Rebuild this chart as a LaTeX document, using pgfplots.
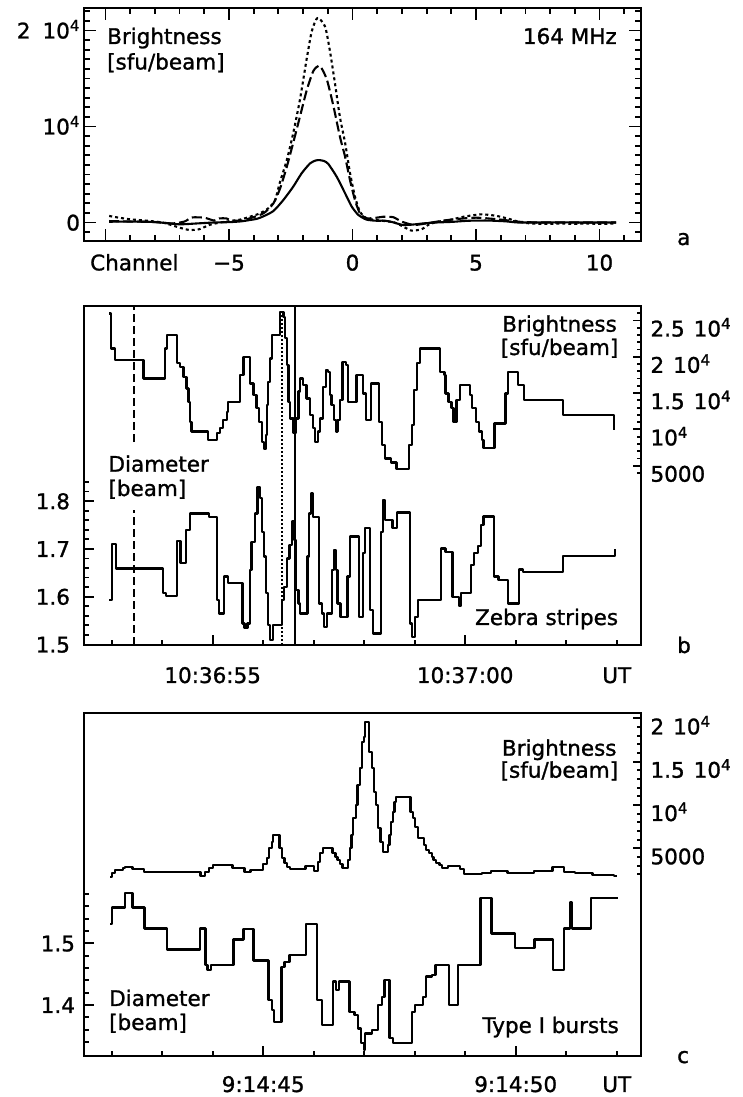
\documentclass[border=0pt]{standalone}
\usepackage{pgfplots}
\pgfplotsset{compat=1.18}
\usepackage{fontspec}
\setmainfont{DejaVu Sans}[BoldFont=DejaVu Sans, BoldFeatures={FakeBold=1.2}]

\newcommand{\tf}{\fontsize{21.5}{25}\selectfont\bfseries}
\newcommand{\tenk}{10\textsuperscript{4}}

\pgfplotsset{
  panel/.style={
    scale only axis, anchor=south west, width=557.5pt,
    tick align=inside, scaled ticks=false,
    axis line style={line width=2pt},
    tick style={line width=1.8pt, black},
    major tick length=10pt, minor tick length=5pt,
    tick label style={font=\tf},
    yticklabel style={anchor=base east, yshift=-8pt},
  },
  rpanel/.style={panel, hide x axis, ytick pos=right, yticklabel pos=right,
    yticklabel style={anchor=base west, yshift=-8pt, xshift=6pt}},
  curve/.style={black, line width=2.1pt, line join=round},
  step/.style={curve, const plot, line width=2.3pt},
}

\begin{document}
\begin{tikzpicture}[x=1pt,y=1pt]
\path[use as bounding box] (0,0) rectangle (743,1097);

% ---------------- panel a: brightness profile across channels
\begin{axis}[panel, at={(83.5pt,855.5pt)}, height=233.5pt,
  xmin=-10.89, xmax=11.68, ymin=-1979, ymax=22344,
  major tick length=12pt, minor tick length=6pt,
  xtick={-10,-5,0,5,10}, xticklabels={,−5,0,5,10},
  minor xtick={-9,-8,-7,-6,-4,-3,-2,-1,1,2,3,4,6,7,8,9,11},
  ytick={0,10000,20000}, yticklabels={0,\tenk,2\hspace{12pt}\tenk},
  minor ytick={-1000,1000,2000,3000,4000,5000,6000,7000,8000,9000,11000,12000,13000,14000,15000,16000,17000,18000,19000,21000,22000},
  xticklabel style={anchor=base, yshift=-29pt},
]
\addplot[curve, smooth, tension=0.4] coordinates {
  (-9.85,80) (-9,90) (-8.3,80) (-7.7,-20) (-7.0,-190) (-6.3,-100) (-5.6,0)
  (-4.95,40) (-4.5,120) (-4.15,260) (-3.87,380) (-3.6,650) (-3.2,1200)
  (-2.8,2340) (-2.4,3730) (-2.06,5120) (-1.72,6150) (-1.5,6450) (-1.34,6500)
  (-1.15,6400) (-0.98,6100) (-0.64,4770) (-0.3,3040) (-0.03,1650) (0.24,780)
  (0.57,300) (0.98,180) (1.3,190) (1.6,50) (2.05,-260) (2.5,-200) (2.85,-100)
  (3.4,0) (4.0,60) (4.7,180) (5.5,200) (6.2,120) (6.7,0) (7.5,0) (8.5,10)
  (9.5,0) (10.67,0)};
\addplot[curve, smooth, tension=0.4, dash pattern=on 10pt off 4pt] coordinates {
  (-9.85,150) (-9,100) (-8,50) (-7.3,-100) (-6.8,100) (-6.5,520) (-6.0,500)
  (-5.6,200) (-5.4,420) (-5.1,420) (-4.9,200) (-4.5,200) (-4.15,440)
  (-3.6,960) (-3.2,2000) (-2.93,3560) (-2.66,5800) (-2.4,8300) (-2.13,11000)
  (-1.85,13800) (-1.58,15800) (-1.32,16300) (-1.04,14900) (-0.77,12100)
  (-0.51,8950) (-0.3,6850) (-0.1,4400) (0.1,2340) (0.3,960) (0.57,440)
  (0.98,500) (1.25,600) (1.65,550) (2.0,85) (2.5,-260) (3.2,0) (4.0,300)
  (5.0,500) (6.0,300) (6.7,85) (7.5,0) (8.5,0) (9.5,0) (10.67,0)};
\addplot[curve, smooth, tension=0.4, dash pattern=on 3pt off 3pt] coordinates {
  (-9.85,680) (-9.55,540) (-9.0,330) (-8.34,190) (-7.66,-20) (-7.0,-540)
  (-6.6,-780) (-6.2,-700) (-5.8,-260) (-5.4,-20) (-4.95,150) (-4.55,300)
  (-4.15,600) (-3.75,950) (-3.4,1500) (-3.14,2300) (-2.93,4250) (-2.66,6500)
  (-2.4,9300) (-2.13,12760) (-1.85,17100) (-1.65,19900) (-1.42,21300)
  (-1.11,20400) (-0.91,17800) (-0.71,14500) (-0.51,11000) (-0.3,8300)
  (-0.1,5150) (0.1,2700) (0.3,1130) (0.57,440) (0.98,250) (1.3,150) (1.7,0)
  (2.1,-500) (2.4,-850) (2.8,-700) (3.1,-200) (3.5,100) (4.0,300) (4.5,600)
  (5.2,850) (5.8,700) (6.3,400) (6.7,100) (7.2,-100) (8,-150) (8.5,-100)
  (9,-150) (9.5,-100) (10,-150) (10.67,-100)};
\end{axis}

% ---------------- panel b: zebra stripes, diameter (left axis)
\begin{axis}[panel, at={(83.5pt,452pt)}, height=339pt,
  xmin=2.442, xmax=13.481, ymin=1.49895, ymax=2.20816,
  tick pos=left,
  xtick={5,10}, xticklabels={10:36:55,10:37:00},
  minor xtick={3,4,6,7,8,9,11,12},
  extra x ticks={13}, extra x tick labels={UT},
  extra x tick style={major tick length=5pt},
  xticklabel style={anchor=base, yshift=-38pt},
  ytick={1.5,1.6,1.7,1.8}, yticklabels={1.5,1.6,1.7,1.8},
  minor ytick={1.52,1.54,1.56,1.58,1.62,1.64,1.66,1.68,1.72,1.74,1.76,1.78,1.82,1.84},
  yticklabel style={xshift=-10pt},
]
\addplot[black, line width=1.8pt, dash pattern=on 8pt off 4pt] coordinates {(3.448,1.49895) (3.448,1.7814)};
\addplot[black, line width=1.8pt, dash pattern=on 8pt off 4pt] coordinates {(3.448,1.9236) (3.448,2.20816)};
\addplot[black, line width=1.8pt, dash pattern=on 2pt off 2pt] coordinates {(6.378,1.49895) (6.378,2.1956)};
\addplot[black, line width=1.8pt] coordinates {(6.63,1.49895) (6.63,2.20816)};
\addplot[step] coordinates {
  (2.95,1.593) (3.0,1.710) (3.085,1.659) (4.02,1.607) (4.075,1.602) (4.29,1.717)
  (4.365,1.670) (4.47,1.740) (4.55,1.774) (4.93,1.767) (5.08,1.593) (5.13,1.565)
  (5.22,1.642) (5.31,1.628) (5.59,1.544) (5.63,1.534) (5.69,1.544) (5.74,1.656)
  (5.77,1.715) (5.84,1.774) (5.89,1.830) (5.94,1.806) (5.97,1.736) (6.02,1.684)
  (6.06,1.607) (6.09,1.541) (6.135,1.509) (6.19,1.541) (6.37,1.593) (6.41,1.621)
  (6.465,1.680) (6.52,1.708) (6.565,1.757) (6.61,1.719) (6.65,1.614) (6.70,1.586)
  (6.73,1.565) (6.875,1.684) (6.91,1.774) (6.945,1.816) (6.99,1.767) (7.10,1.586)
  (7.16,1.565) (7.21,1.537) (7.26,1.565) (7.36,1.656) (7.40,1.698) (7.44,1.656)
  (7.47,1.586) (7.53,1.558) (7.67,1.642) (7.72,1.726) (7.90,1.558) (7.98,1.691)
  (8.016,1.743) (8.12,1.572) (8.18,1.523) (8.33,1.736) (8.37,1.802) (8.41,1.760)
  (8.56,1.743) (8.65,1.776) (8.91,1.544) (8.95,1.516) (9.01,1.558) (9.06,1.593)
  (9.52,1.701) (9.61,1.694) (9.75,1.600) (9.88,1.581) (9.92,1.607) (10.115,1.666)
  (10.18,1.691) (10.25,1.706) (10.31,1.750) (10.36,1.768) (10.57,1.642)
  (10.66,1.635) (10.85,1.586) (11.06,1.657) (11.15,1.652) (11.94,1.685)
  (12.97,1.700)};
\end{axis}

% ---------------- panel b: brightness (right axis)
\begin{axis}[rpanel, at={(83.5pt,452pt)}, height=339pt,
  xmin=2.442, xmax=13.481, ymin=-19697, ymax=26997,
  ytick={5000,10000,15000,20000,25000},
  yticklabels={5000,\tenk,1.5\hspace{9pt}\tenk,2\hspace{9pt}\tenk,2.5\hspace{9pt}\tenk},
  minor ytick={4000,6000,7000,8000,9000,11000,12000,13000,14000,16000,17000,18000,19000,21000,22000,23000,24000,26000},
  major tick length=8pt, minor tick length=4pt,
]
\addplot[step] coordinates {
  (2.95,25980) (2.99,21160) (3.065,19550) (3.63,17030) (4.055,21160) (4.10,23000)
  (4.29,19100) (4.35,18630) (4.42,17260) (4.48,15650) (4.52,13820) (4.55,11060)
  (4.58,9690) (4.91,8540) (5.08,9460) (5.14,10150) (5.21,11290) (5.28,12440)
  (5.31,13820) (5.54,17490) (5.61,20010) (5.74,16340) (5.81,14730) (5.87,12900)
  (5.92,11060) (5.97,8310) (6.02,7300) (6.05,9230) (6.07,13360) (6.10,16570)
  (6.13,19780) (6.17,23000) (6.33,26210) (6.40,25520) (6.43,22540) (6.47,18870)
  (6.50,13820) (6.53,11520) (6.60,9460) (6.65,11520) (6.70,15200) (6.73,17030)
  (6.79,16110) (6.86,14270) (6.92,11980) (6.99,10150) (7.02,8310) (7.09,9690)
  (7.12,11520) (7.19,15880) (7.24,18180) (7.29,17950) (7.32,14730) (7.35,13360)
  (7.40,11290) (7.44,9690) (7.47,11290) (7.52,14050) (7.57,19320) (7.64,18870)
  (7.68,13820) (7.85,17490) (7.98,14960) (8.03,11290) (8.135,16340) (8.29,11060)
  (8.35,7850) (8.41,6010) (8.53,5460) (8.64,4500) (8.89,7850) (8.95,10600)
  (8.99,15420) (9.05,19100) (9.105,21160) (9.50,17950) (9.59,17490) (9.61,14960)
  (9.67,13820) (9.73,12900) (9.77,11060) (9.83,14050) (9.90,16110) (10.10,14730)
  (10.14,12900) (10.21,11060) (10.27,9690) (10.33,8540) (10.36,7390)
  (10.58,10830) (10.80,14960) (10.85,17950) (11.05,16110) (11.17,14050)
  (11.94,11980) (12.95,9920)};
\end{axis}

% ---------------- panel c: type I bursts, diameter (left axis)
\begin{axis}[panel, at={(83.5pt,41pt)}, height=343pt,
  xmin=41.442, xmax=52.481, ymin=1.31734, ymax=1.87326,
  tick pos=left,
  xtick={45,50}, xticklabels={9:14:45,9:14:50},
  minor xtick={42,43,44,46,47,48,49,51},
  extra x ticks={52}, extra x tick labels={UT},
  extra x tick style={major tick length=5pt},
  xticklabel style={anchor=base, yshift=-36pt},
  ytick={1.4,1.5}, yticklabels={1.4,1.5},
  minor ytick={1.34,1.36,1.38,1.42,1.44,1.46,1.48,1.52,1.54,1.56,1.58},
  yticklabel style={xshift=-5pt},
]
\addplot[step] coordinates {
  (41.97,1.531) (42.0,1.558) (42.26,1.582) (42.41,1.558) (42.65,1.524)
  (43.09,1.490) (43.75,1.524) (43.855,1.465) (43.90,1.457) (43.96,1.465)
  (44.41,1.506) (44.61,1.523) (44.81,1.472) (45.105,1.408) (45.17,1.392)
  (45.21,1.373) (45.36,1.462) (45.42,1.470) (45.52,1.481) (45.85,1.531)
  (46.07,1.408) (46.16,1.368) (46.38,1.438) (46.44,1.424) (46.495,1.438)
  (46.71,1.389) (46.81,1.384) (46.88,1.362) (46.93,1.338) (46.99,1.327)
  (47.02,1.354) (47.16,1.359) (47.28,1.400) (47.35,1.413) (47.40,1.440)
  (47.50,1.346) (47.57,1.338) (47.94,1.389) (48.0,1.400) (48.16,1.413)
  (48.22,1.446) (48.34,1.449) (48.41,1.465) (48.675,1.400) (48.86,1.465)
  (49.30,1.573) (49.52,1.516) (49.99,1.492) (50.37,1.506) (50.74,1.457)
  (50.96,1.524) (51.07,1.566) (51.11,1.524) (51.49,1.573) (52.02,1.573)};
\end{axis}

% ---------------- panel c: brightness (right axis)
\begin{axis}[rpanel, at={(83.5pt,41pt)}, height=343pt,
  xmin=41.442, xmax=52.481, ymin=-18984, ymax=20624,
  ytick={5000,10000,15000,20000},
  yticklabels={5000,\tenk,1.5\hspace{9pt}\tenk,2\hspace{9pt}\tenk},
  minor ytick={2000,3000,4000,6000,7000,8000,9000,11000,12000,13000,14000,16000,17000,18000,19000},
  major tick length=8pt, minor tick length=4pt,
]
\addplot[step] coordinates {
  (41.97,1724) (42.0,2110) (42.065,2494) (42.23,2687) (42.26,2880) (42.415,2610)
  (42.64,2302) (43.76,1840) (43.85,2302) (43.93,2764) (44.0,3072) (44.395,2687)
  (44.63,2302) (44.75,2533) (45.0,3149) (45.08,3918) (45.12,5000) (45.17,5766)
  (45.20,6536) (45.32,5000) (45.37,3841) (45.42,3264) (45.465,2879) (45.53,2571)
  (45.84,2956) (46.005,2417) (46.085,3457) (46.12,4419) (46.18,5000)
  (46.375,4419) (46.43,4034) (46.47,3649) (46.52,3149) (46.57,2764)
  (46.685,3649) (46.72,5000) (46.75,6536) (46.785,8460) (46.84,10000)
  (46.87,12310) (46.92,14234) (46.95,17313) (47.0,17890) (47.02,19620)
  (47.10,16160) (47.15,14234) (47.19,11540) (47.23,10000) (47.28,7306)
  (47.32,5766) (47.37,4611) (47.465,5381) (47.50,6536) (47.53,8076)
  (47.565,9230) (47.60,10385) (47.63,10962) (47.915,9230) (47.97,8460)
  (48.005,7498) (48.06,6151) (48.18,5381) (48.22,4804) (48.28,4419)
  (48.34,4034) (48.375,3649) (48.42,3264) (48.49,3072) (48.535,2687)
  (48.665,2956) (48.90,2571) (48.97,1994) (49.33,2187) (49.51,2379)
  (49.84,2110) (50.36,2379) (50.73,2802) (50.96,2302) (51.175,2110)
  (51.52,1917) (51.95,1840) (52.0,1840)};
\end{axis}

% ---------------- labels
\begin{scope}[every node/.style={inner sep=0pt, font=\tf}]
\node[anchor=base west] at (107,1053) {Brightness};
\node[anchor=base west] at (107,1027.5) {[sfu/beam]};
\node[anchor=base east] at (617,1053) {164 MHz};
\node[anchor=base west] at (90,826.6) {Channel};
\node[anchor=base west] at (677,852) {a};

\node[anchor=base east] at (617,765.3) {Brightness};
\node[anchor=base east] at (618.5,742) {[sfu/beam]};
\node[anchor=base west] at (108.3,625.3) {Diameter};
\node[anchor=base west] at (108.3,601) {[beam]};
\node[anchor=base east] at (618.3,472) {Zebra stripes};
\node[anchor=base west] at (677,444) {b};

\node[anchor=base east] at (616.7,341.3) {Brightness};
\node[anchor=base east] at (618.3,319.3) {[sfu/beam]};
\node[anchor=base west] at (109,91) {Diameter};
\node[anchor=base west] at (109,67) {[beam]};
\node[anchor=base east] at (619,64) {Type I bursts};
\node[anchor=base west] at (677,34) {c};
\end{scope}
\end{tikzpicture}
\end{document}
